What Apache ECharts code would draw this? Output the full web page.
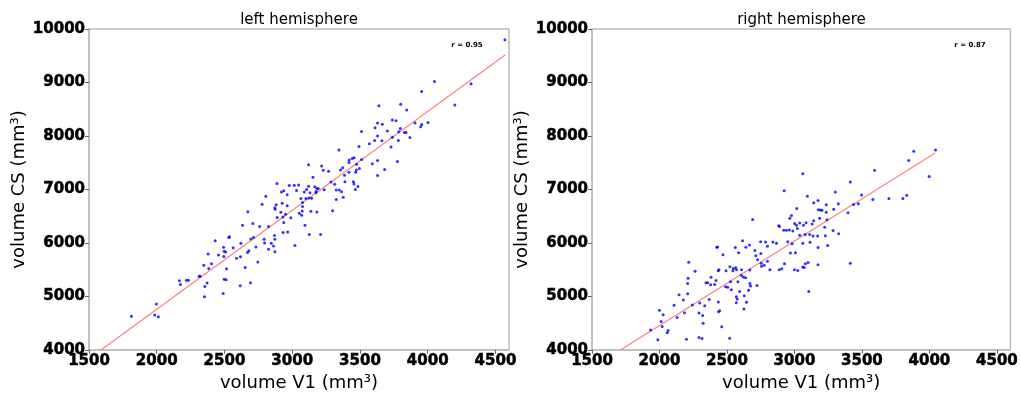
<!DOCTYPE html>
<html>
<head>
<meta charset="utf-8">
<script src="https://cdn.jsdelivr.net/npm/echarts@6/dist/echarts.min.js"></script>
<style>html,body{margin:0;padding:0;background:#fff}#c{width:1021px;height:397px}</style>
</head>
<body>
<div id="c"></div>
<script>
// ---- data ----
const panelTitles = ['left hemisphere', 'right hemisphere'];
const rLabels = ['r = 0.95', 'r = 0.87'];
const xTicks = [1500, 2000, 2500, 3000, 3500, 4000, 4500];
const yTicks = [4000, 5000, 6000, 7000, 8000, 9000, 10000];
const xName = 'volume V1 (mm³)';
const yName = 'volume CS (mm³)';

// [V1 volume, CS volume]
const leftPoints = [
[4570,9800],[4050,9018],[4320,8975],[3955,8829],[4200,8579],[3800,8591],[3640,8566],[3845,8487],[3739,8298],[3766,8286],
[3630,8243],[3665,8219],[3906,8243],[3956,8213],[3948,8170],[4002,8250],[3611,8152],[3702,8091],[3512,8085],[3798,8140],
[3786,8079],[3828,8066],[3840,8066],[3630,8000],[3739,7975],[3869,7969],[3783,7914],[3608,7914],[3662,7908],[3569,7853],
[3729,7792],[3493,7804],[3345,7737],[3456,7591],[3443,7579],[3421,7548],[3512,7560],[3630,7542],[3776,7523],[3591,7481],
[3419,7505],[3475,7469],[3495,7390],[3372,7407],[3357,7365],[3473,7365],[3468,7322],[3682,7371],[3630,7261],[3419,7322],
[3121,7462],[3217,7438],[3229,7359],[3268,7340],[3153,7230],[3386,7267],[3286,7139],[3313,7096],[3389,7145],[3451,7145],
[3456,7103],[3485,7054],[3466,6999],[3325,6987],[3347,6987],[3364,6956],[3377,6852],[3325,6810],[3298,6602],[3236,6993],
[3167,7048],[3182,7018],[3192,7018],[3121,7060],[3106,6999],[3089,6950],[3131,6938],[3175,6938],[3101,6828],[3123,6840],
[3143,6834],[3177,6962],[3015,7078],[3047,7084],[2978,7072],[2887,7109],[2938,6974],[2921,6950],[2963,6901],[3032,6981],
[3064,6828],[3076,6755],[3076,6682],[3074,6596],[3069,6517],[3052,6553],[3138,6590],[3182,6578],[2805,6871],[2778,6724],
[2926,6743],[2963,6694],[2882,6712],[2872,6657],[2874,6627],[2916,6572],[2951,6535],[2931,6486],[2889,6474],[2938,6383],
[2990,6468],[3094,6328],[3126,6157],[3209,6157],[2933,6194],[2966,6206],[3020,5950],[2672,6584],[2709,6364],[2633,6328],
[2759,6309],[2825,6309],[2714,6102],[2695,6072],[2793,6066],[2796,5998],[2869,6139],[2872,6066],[2845,5992],[2862,5944],
[2825,5883],[2872,5834],[2621,5992],[2564,5907],[2537,6115],[2532,6102],[2431,6041],[2493,5919],[2498,5846],[2508,5828],
[2495,5748],[2456,5773],[2589,5712],[2618,5742],[2680,5852],[2670,5822],[2732,5925],[2746,5645],[2653,5541],[2515,5517],
[2379,5791],[2404,5608],[2347,5584],[2384,5523],[2313,5376],[2320,5376],[2219,5303],[2234,5303],[2167,5290],[2175,5224],
[2372,5248],[2355,5187],[2498,5321],[2512,5309],[2692,5254],[2616,5199],[2352,4992],[2490,5053],[1998,4858],[1985,4650],
[2012,4620],[1813,4626]
];

const rightPoints = [
[4045,7737],[3884,7712],[3847,7542],[3998,7243],[3594,7359],[3803,6828],[3700,6828],[3581,6810],[3832,6889],[3414,7139],
[3498,6895],[3473,6730],[3438,6718],[3397,6566],[3303,6950],[3325,6730],[3328,6169],[3414,5620],[3062,7292],[2924,6974],
[3096,6871],[3175,6791],[3143,6749],[3236,6712],[3177,6621],[3192,6615],[3204,6609],[3236,6572],[3291,6627],[3017,6645],
[2978,6511],[2966,6462],[3187,6462],[3241,6432],[3143,6413],[3086,6377],[3039,6371],[3067,6328],[3131,6352],[3002,6364],
[3015,6328],[2884,6322],[2889,6309],[2921,6236],[2941,6236],[2963,6242],[2988,6224],[3022,6267],[3039,6145],[3079,6157],
[3113,6157],[3138,6127],[3172,6127],[3229,6133],[3286,6230],[3224,6291],[3116,6011],[3062,5992],[2983,5986],[2951,6023],
[3175,5913],[3246,5950],[3007,5815],[2970,5809],[2926,5608],[3000,5498],[3025,5486],[2887,5498],[2906,5516],[3062,5547],
[3072,5541],[3081,5608],[3101,5632],[3175,5590],[3106,5090],[2690,6438],[2749,6023],[2786,6017],[2840,6017],[2867,5992],
[2800,5937],[2751,5803],[2707,5858],[2714,5760],[2727,5687],[2754,5620],[2776,5584],[2756,5565],[2800,5657],[2818,5498],
[2616,6041],[2667,5962],[2640,5919],[2562,5913],[2586,5815],[2571,5498],[2544,5480],[2547,5523],[2564,5535],[2608,5498],
[2670,5492],[2606,5395],[2621,5364],[2638,5346],[2581,5272],[2670,5242],[2675,5193],[2722,5205],[2660,5114],[2594,5090],
[2628,5010],[2569,4992],[2576,4949],[2569,4882],[2645,4888],[2626,4766],[2527,5272],[2490,5181],[2505,5169],[2532,5126],
[2522,5553],[2470,5779],[2493,5480],[2436,5480],[2441,5498],[2419,5297],[2409,5224],[2382,5358],[2357,5254],[2345,5254],
[2379,5218],[2424,5919],[2431,5925],[2369,4943],[2436,4894],[2438,4711],[2446,4730],[2461,4431],[2264,5468],[2217,5639],
[2212,5340],[2209,5242],[2209,5047],[2177,4931],[2145,5029],[2108,4833],[2244,4839],[2298,4876],[2335,4827],[2293,4687],
[2320,4644],[2323,4498],[2185,4693],[2131,4607],[2000,4742],[2027,4656],[2012,4528],[2020,4437],[2064,4364],[2057,4321],
[1934,4370],[1988,4187],[2200,4199],[2293,4229],[2315,4211],[2520,4217]
];

// regression line end points [V1, CS]
const leftFit = [[1591, 4000], [4571, 9512]];
const rightFit = [[1714, 4000], [4042, 7682]];

// ---- chart ----
const FONT = 'DejaVu Sans';
const frame = '#bdbdbd';
const chart = echarts.init(document.getElementById('c'), null, {renderer: 'canvas'});

const grids = [
  {left: 89, right: 512, top: 29, bottom: 40},
  {left: 592, right: 10, top: 29, bottom: 40}
];
const plain = v => String(v);
const tickLabel = {fontFamily: FONT, fontWeight: 'bold', fontSize: 15, color: '#000', margin: 4,
                   textBorderColor: '#000', textBorderWidth: 0.5, formatter: plain};

function xAxis(i) {
  return {
    gridIndex: i, type: 'value', min: 1500, max: 4600, interval: 500,
    name: xName, nameLocation: 'middle', nameGap: 20,
    nameTextStyle: {fontFamily: FONT, fontSize: 18, color: '#000'},
    axisLine: {show: true, lineStyle: {color: frame, width: 1.5}},
    axisTick: {show: true, inside: false, length: 4, customValues: xTicks, lineStyle: {color: '#666'}},
    axisLabel: Object.assign({customValues: xTicks}, tickLabel),
    splitLine: {show: false}
  };
}
function yAxis(i) {
  return {
    gridIndex: i, type: 'value', min: 4000, max: 10000, interval: 1000,
    name: yName, nameLocation: 'middle', nameGap: 51,
    nameTextStyle: {fontFamily: FONT, fontSize: 18, color: '#000'},
    axisLine: {show: true, lineStyle: {color: frame, width: 1.5}},
    axisTick: {show: true, inside: false, length: 4, customValues: yTicks, lineStyle: {color: '#666'}},
    axisLabel: Object.assign({customValues: yTicks}, tickLabel),
    splitLine: {show: false}
  };
}

const pointSets = [leftPoints, rightPoints];
const fits = [leftFit, rightFit];
const series = [];
[0, 1].forEach(i => {
  series.push({
    type: 'line', xAxisIndex: i, yAxisIndex: i, data: fits[i],
    symbol: 'none', lineStyle: {color: '#ff7f7f', width: 1.2}, z: 2, silent: true, animation: false
  });
  series.push({
    type: 'scatter', xAxisIndex: i, yAxisIndex: i, data: pointSets[i],
    symbol: 'circle', symbolSize: 3, itemStyle: {color: '#0000ff'}, z: 3, silent: true, animation: false
  });
});

const graphics = [];
const centers = [299, 801.5];
const rPos = [467, 970];
[0, 1].forEach(i => {
  graphics.push({type: 'text', x: centers[i], y: 20, style: {text: panelTitles[i], font: '15px "DejaVu Sans"', fill: '#000', textAlign: 'center', textVerticalAlign: 'middle'}});
  graphics.push({type: 'text', x: rPos[i], y: 45, style: {text: rLabels[i], font: 'bold 7px "DejaVu Sans"', fill: '#000', textAlign: 'center', textVerticalAlign: 'middle'}});
});

chart.setOption({
  animation: false,
  backgroundColor: '#fff',
  grid: grids.map(g => Object.assign({show: true, borderColor: frame, borderWidth: 1.5, backgroundColor: 'transparent'}, g)),
  xAxis: [xAxis(0), xAxis(1)],
  yAxis: [yAxis(0), yAxis(1)],
  series: series,
  graphic: graphics
});
</script>
</body>
</html>
